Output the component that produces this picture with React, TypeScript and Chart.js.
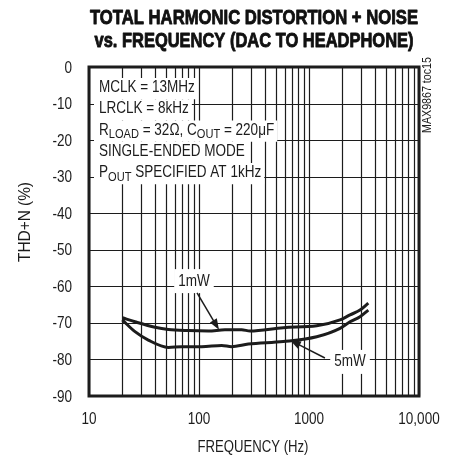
import React, { useEffect, useRef } from 'react';
import { Chart, registerables } from 'chart.js';

Chart.register(...registerables);

// ---- data ----
const freq1mW = [20.1, 26.2, 39.8, 52.6, 80, 121.5, 172, 244, 291, 584, 1175, 1914, 2360, 2909, 3460];
const thd1mW = [-68.6, -69.7, -71.2, -71.8, -72.1, -72.2, -71.9, -71.9, -72.2, -71.3, -70.8, -69.2, -67.8, -66.5, -64.6];
const freq5mW = [20.1, 26.2, 34.6, 52.6, 69.6, 105.9, 160.8, 198, 280.6, 584, 1175, 1914, 2360, 2909, 3460];
const thd5mW = [-69.2, -72.4, -74.7, -76.7, -76.5, -76.5, -76.2, -76.5, -75.8, -75.1, -73.8, -71.5, -69.7, -68.3, -66.5];

const xGridValues = [
  10, 20, 30, 40, 50, 60, 70, 80, 90,
  100, 200, 300, 400, 500, 600, 700, 800, 900,
  1000, 2000, 3000, 4000, 5000, 6000, 7000, 8000, 9000, 10000,
];
const xLabelValues = [10, 100, 1000, 10000];
const xTickLabels = ['10', '100', '1000', '10,000'];
const yTickValues = [0, -10, -20, -30, -40, -50, -60, -70, -80, -90];
const yTickLabels = ['0', '-10', '-20', '-30', '-40', '-50', '-60', '-70', '-80', '-90'];
const yMin = -90;
const yMax = 0;
const yStep = 10;

const titleLines = ['TOTAL HARMONIC DISTORTION + NOISE', 'vs. FREQUENCY (DAC TO HEADPHONE)'];
const xTitle = 'FREQUENCY (Hz)';
const yTitle = 'THD+N (%)';
const sideNote = 'MAX9867 toc15';

type Seg = { t: string; sub?: boolean };
const conditionRows: Seg[][] = [
  [{ t: 'MCLK = 13MHz' }],
  [{ t: 'LRCLK = 8kHz' }],
  [{ t: 'R' }, { t: 'LOAD', sub: true }, { t: ' = 32\u03A9, C' }, { t: 'OUT', sub: true }, { t: ' = 220\u03BCF' }],
  [{ t: 'SINGLE-ENDED MODE' }],
  [{ t: 'P' }, { t: 'OUT', sub: true }, { t: ' SPECIFIED AT 1kHz' }],
];

// series labels with arrows, in data coordinates
const seriesLabels = [
  { text: '1mW', at: [90, -58.3], from: [96, -61.8], to: [152, -71.9] },
  { text: '5mW', at: [2360, -80.4], from: [1396, -79.6], to: [671, -74.7] },
];

const FONT = "'Liberation Sans', Arial, Helvetica, sans-serif";
const SX = 0.82; // condensed look
const INK = '#1c1c1c';

function fontStr(size: number, bold?: boolean) {
  return `${bold ? 'bold ' : ''}${size}px ${FONT}`;
}

function drawText(
  ctx: CanvasRenderingContext2D,
  s: string,
  x: number,
  y: number,
  size: number,
  align: CanvasTextAlign,
  baseline: CanvasTextBaseline,
  sx: number = SX,
  bold?: boolean,
  rot?: number,
  heavy?: number
) {
  ctx.save();
  ctx.translate(x, y);
  if (rot) ctx.rotate(rot);
  ctx.scale(sx, 1);
  ctx.font = fontStr(size, bold);
  ctx.textAlign = align;
  ctx.textBaseline = baseline;
  ctx.fillText(s, 0, 0);
  if (heavy) {
    ctx.strokeStyle = ctx.fillStyle as string;
    ctx.lineWidth = heavy;
    ctx.lineJoin = 'round';
    ctx.strokeText(s, 0, 0);
  }
  ctx.restore();
}

function fitScale(ctx: CanvasRenderingContext2D, s: string, size: number, target: number, bold?: boolean) {
  ctx.save();
  ctx.font = fontStr(size, bold);
  const w = ctx.measureText(s).width;
  ctx.restore();
  return target / w;
}

function drawArrow(ctx: CanvasRenderingContext2D, x1: number, y1: number, x2: number, y2: number) {
  const ang = Math.atan2(y2 - y1, x2 - x1);
  const hl = 11;
  const hw = 4;
  ctx.save();
  ctx.strokeStyle = INK;
  ctx.fillStyle = INK;
  ctx.lineWidth = 1.5;
  ctx.beginPath();
  ctx.moveTo(x1, y1);
  ctx.lineTo(x2 - Math.cos(ang) * hl * 0.8, y2 - Math.sin(ang) * hl * 0.8);
  ctx.stroke();
  ctx.beginPath();
  ctx.moveTo(x2, y2);
  ctx.lineTo(x2 - Math.cos(ang) * hl - Math.sin(ang) * hw, y2 - Math.sin(ang) * hl + Math.cos(ang) * hw);
  ctx.lineTo(x2 - Math.cos(ang) * hl + Math.sin(ang) * hw, y2 - Math.sin(ang) * hl - Math.cos(ang) * hw);
  ctx.closePath();
  ctx.fill();
  ctx.restore();
}

const MAIN = 16.5;
const SUB = 13.5;

const decorPlugin = {
  id: 'decor',
  beforeDatasetsDraw(chart: any) {
    const { ctx, chartArea, scales } = chart;
    const { left, right, top, bottom } = chartArea;
    ctx.save();
    // grid lines, positioned by the chart's scales
    ctx.strokeStyle = INK;
    ctx.lineWidth = 1.2;
    ctx.beginPath();
    xGridValues.forEach((v) => {
      const px = Math.round(scales.x.getPixelForValue(v)) + 0.5;
      ctx.moveTo(px, top);
      ctx.lineTo(px, bottom);
    });
    yTickValues.forEach((v) => {
      const py = Math.round(scales.y.getPixelForValue(v)) + 0.5;
      ctx.moveTo(left, py);
      ctx.lineTo(right, py);
    });
    ctx.stroke();
    // condition text block
    const x0 = left + 10;
    conditionRows.forEach((row, i) => {
      const base = top + 25 + i * 21.25;
      let w = 0;
      row.forEach((s) => {
        ctx.font = fontStr(s.sub ? SUB : MAIN);
        w += ctx.measureText(s.t).width * SX;
      });
      ctx.fillStyle = '#fff';
      ctx.fillRect(left + 5, base - 14, x0 + w + 3 - (left + 5), 21.25);
      let x = x0;
      ctx.fillStyle = INK;
      row.forEach((s) => {
        drawText(ctx, s.t, x, base + (s.sub ? 3.5 : 0), s.sub ? SUB : MAIN, 'left', 'alphabetic');
        ctx.font = fontStr(s.sub ? SUB : MAIN);
        x += ctx.measureText(s.t).width * SX;
      });
    });
    // series labels
    seriesLabels.forEach((l) => {
      const cx = scales.x.getPixelForValue(l.at[0]);
      const cy = scales.y.getPixelForValue(l.at[1]);
      ctx.font = fontStr(MAIN);
      const w = ctx.measureText(l.text).width * SX;
      ctx.fillStyle = '#fff';
      ctx.fillRect(cx - w / 2 - 4, cy - 11, w + 8, 24);
      ctx.fillStyle = INK;
      drawText(ctx, l.text, cx, cy + 1, MAIN, 'center', 'middle');
    });
    ctx.restore();
  },
  afterDraw(chart: any) {
    const { ctx, chartArea, scales } = chart;
    const { left, right, top, bottom } = chartArea;
    ctx.save();
    seriesLabels.forEach((l) => {
      drawArrow(
        ctx,
        scales.x.getPixelForValue(l.from[0]),
        scales.y.getPixelForValue(l.from[1]),
        scales.x.getPixelForValue(l.to[0]),
        scales.y.getPixelForValue(l.to[1])
      );
    });
    // border
    ctx.strokeStyle = INK;
    ctx.lineWidth = 3;
    ctx.strokeRect(left, top, right - left, bottom - top);
    ctx.fillStyle = INK;
    // tick labels (placed through the scales)
    yTickValues.forEach((v, i) => {
      drawText(ctx, yTickLabels[i], left - 17, scales.y.getPixelForValue(v) + 1, MAIN, 'right', 'middle');
    });
    xLabelValues.forEach((v, i) => {
      drawText(ctx, xTickLabels[i], scales.x.getPixelForValue(v), bottom + 23, MAIN, 'center', 'middle');
    });
    // title
    const cx = (left + right) / 2;
    ctx.fillStyle = '#111';
    const t1 = fitScale(ctx, titleLines[0], 21, 328, true);
    const t2 = fitScale(ctx, titleLines[1], 21, 319, true);
    drawText(ctx, titleLines[0], cx, 18.5, 21, 'center', 'middle', t1, true, 0, 0.9);
    drawText(ctx, titleLines[1], cx, 41.5, 21, 'center', 'middle', t2, true, 0, 0.9);
    // axis titles
    ctx.fillStyle = INK;
    drawText(ctx, xTitle, cx - 1, 447, MAIN, 'center', 'middle', fitScale(ctx, xTitle, MAIN, 111));
    drawText(ctx, yTitle, 25, 222, MAIN, 'center', 'middle', fitScale(ctx, yTitle, MAIN, 80), false, -Math.PI / 2);
    // side note
    drawText(ctx, sideNote, 427, 95, 13, 'center', 'middle', fitScale(ctx, sideNote, 13, 76), false, -Math.PI / 2);
    ctx.restore();
  },
};

export default function App() {
  const ref = useRef<HTMLCanvasElement>(null);
  useEffect(() => {
    if (!ref.current) return;
    const chart = new Chart(ref.current, {
      type: 'line',
      data: {
        datasets: [
          {
            label: '1mW',
            data: freq1mW.map((f, i) => ({ x: f, y: thd1mW[i] })),
            borderColor: INK,
            borderWidth: 3,
            pointRadius: 0,
            tension: 0.4,
            cubicInterpolationMode: 'monotone',
          },
          {
            label: '5mW',
            data: freq5mW.map((f, i) => ({ x: f, y: thd5mW[i] })),
            borderColor: INK,
            borderWidth: 3,
            pointRadius: 0,
            tension: 0.4,
            cubicInterpolationMode: 'monotone',
          },
        ],
      },
      options: {
        animation: false,
        responsive: false,
        maintainAspectRatio: false,
        layout: { padding: { top: 67, right: 39, left: 0, bottom: 0 } },
        plugins: { legend: { display: false }, tooltip: { enabled: false }, title: { display: false } },
        scales: {
          x: {
            type: 'logarithmic',
            min: 10,
            max: 10000,
            afterFit: (scale: any) => {
              scale.height = 64;
            },
            grid: { display: false },
            border: { display: false },
            ticks: { display: false },
          },
          y: {
            type: 'linear',
            min: yMin,
            max: yMax,
            afterFit: (scale: any) => {
              scale.width = 89;
            },
            grid: { display: false },
            border: { display: false },
            ticks: { display: false, stepSize: yStep },
          },
        },
      },
      plugins: [decorPlugin],
    } as any);
    return () => chart.destroy();
  }, []);
  return (
    <div style={{ position: 'absolute', left: 0, top: 0, width: 458, height: 460, background: '#fff' }}>
      <canvas ref={ref} width={458} height={460} style={{ width: 458, height: 460, display: 'block' }} />
    </div>
  );
}
